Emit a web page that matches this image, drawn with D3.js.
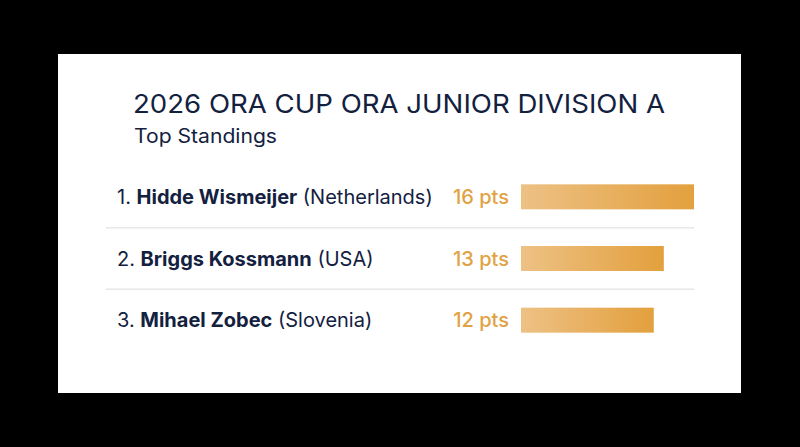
<!DOCTYPE html>
<html><head><meta charset="utf-8">
<script src="https://cdn.jsdelivr.net/npm/d3@7"></script>
<style>
html,body{margin:0;padding:0;background:#000;}
svg{display:block;}
</style></head>
<body>
<script>
const title = "2026 ORA CUP ORA JUNIOR DIVISION A";
const subtitle = "Top Standings";
const ranks = ["1.", "2.", "3."];
const names = ["Hidde Wismeijer", "Briggs Kossmann", "Mihael Zobec"];
const countries = ["Netherlands", "USA", "Slovenia"];
const points = [16, 13, 12];

const W = 800, H = 447;
const font = "Inter, 'Open Sans', sans-serif";
const navy = "#13213f";
const gold = "#e1a244";

const svg = d3.select("body").append("svg").attr("width", W).attr("height", H);
const defs = svg.append("defs");
const grad = defs.append("linearGradient").attr("id", "barGrad").attr("x1", "0%").attr("x2", "100%");
grad.append("stop").attr("offset", "0%").attr("stop-color", "#edc185");
grad.append("stop").attr("offset", "100%").attr("stop-color", "#e3a03d");

svg.append("rect").attr("x", 0).attr("y", 0).attr("width", W).attr("height", H).attr("fill", "#000");
svg.append("rect").attr("x", 58).attr("y", 54).attr("width", 683).attr("height", 339).attr("fill", "#fff");

svg.append("text").attr("x", 133).attr("y", 113).attr("font-family", font).attr("font-size", 26)
  .attr("fill", navy).attr("textLength", 532).attr("lengthAdjust", "spacingAndGlyphs").text(title);
svg.append("text").attr("x", 134).attr("y", 143).attr("font-family", font).attr("font-size", 19.5)
  .attr("fill", navy).attr("textLength", 143).attr("lengthAdjust", "spacingAndGlyphs").text(subtitle);

const y = d3.scaleBand().domain(d3.range(points.length)).range([166, 351]).padding(0);
const x = d3.scaleLinear().domain([0, 16]).range([12, 173]);
const barX = 521;

const rows = svg.append("g").selectAll("g").data(points).join("g")
  .attr("transform", (d, i) => `translate(0,${y(i) + y.bandwidth() / 2})`);

rows.filter((d, i) => i < points.length - 1).append("line")
  .attr("x1", 106).attr("x2", 694)
  .attr("y1", y.bandwidth() / 2).attr("y2", y.bandwidth() / 2)
  .attr("stroke", "#e8e8e8").attr("stroke-width", 1.5);

const label = rows.append("text").attr("x", 117).attr("dy", "0.36em")
  .attr("font-family", font).attr("font-size", 20).attr("fill", navy);
label.append("tspan").attr("font-weight", 400).text((d, i) => ranks[i] + " ");
label.append("tspan").attr("font-weight", 700).text((d, i) => names[i]);
label.append("tspan").attr("font-weight", 400).text((d, i) => " (" + countries[i] + ")");

rows.append("text").attr("x", 509).attr("dy", "0.36em").attr("text-anchor", "end")
  .attr("font-family", font).attr("font-size", 20).attr("font-weight", 500).attr("fill", gold)
  .text(d => d + " pts");

rows.append("rect").attr("x", barX).attr("y", -12.5).attr("height", 25)
  .attr("width", d => x(d)).attr("fill", "url(#barGrad)");
</script>
</body></html>
